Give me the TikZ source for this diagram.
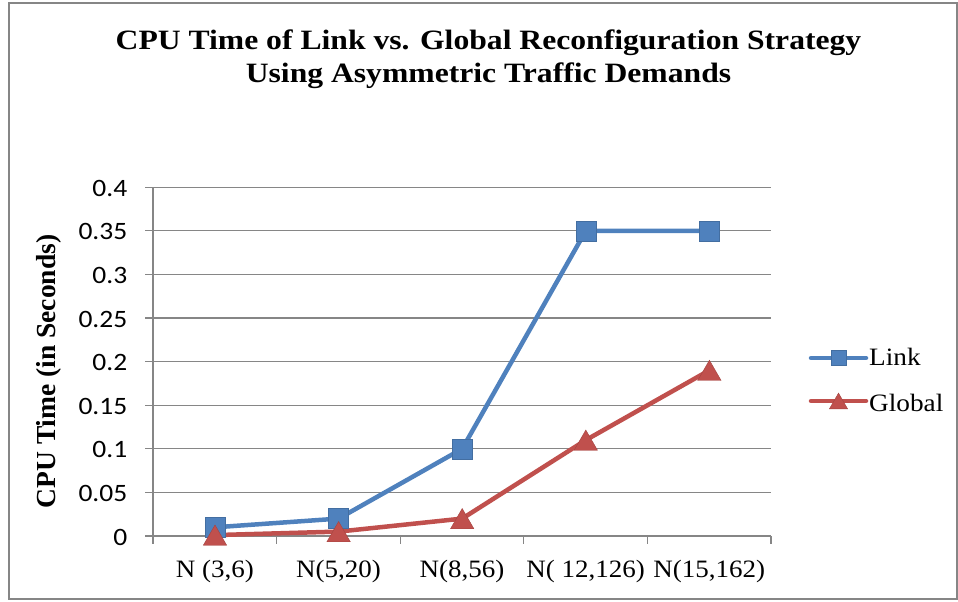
\documentclass[tikz,border=0pt]{standalone}
\usepackage{fontspec}
\setmainfont{Liberation Serif}
\newfontfamily\numfont{Carlito}
\usetikzlibrary{shapes.geometric}
\definecolor{linkblue}{HTML}{4F81BD}
\definecolor{globalred}{HTML}{C0504D}
\definecolor{gridgray}{HTML}{868686}
% text slightly widened, as in the chart export
\newcommand{\wide}[2][1.1]{\scalebox{#1}[1]{#2}}
\begin{document}
\begin{tikzpicture}[x=1pt,y=-1pt,
  gridline/.style={draw=gridgray,line width=1.3pt},
  series/.style={line width=4.5pt,line join=round},
  sqmark/.style={rectangle,fill=linkblue,draw=linkblue!85!black,line width=0.4pt,minimum size=20pt,inner sep=0pt},
  trimark/.style={regular polygon,regular polygon sides=3,fill=globalred,draw=globalred!85!black,line width=0.4pt,minimum size=27pt,inner sep=0pt,yshift=-3.4pt},
  ticklab/.style={anchor=base east,font=\numfont\fontsize{25}{30}\selectfont,inner sep=0pt},
  catlab/.style={anchor=base,font=\fontsize{25}{30}\selectfont,inner sep=0pt},
  legtext/.style={anchor=base west,font=\fontsize{25}{30}\selectfont,inner sep=0pt},
  titlelab/.style={anchor=base,font=\bfseries\fontsize{28}{33}\selectfont,inner sep=0pt}]
\useasboundingbox (0,0) rectangle (958,602);
% chart frame
\draw[draw=gridgray,line width=1.5pt] (9,3) rectangle (957,599);
% title
\node[titlelab] (title1) at (488.5,49) {\wide[1.13]{CPU Time of Link vs. Global Reconfiguration Strategy}};
\node[titlelab] (title2) at (488.5,82) {\wide[1.13]{Using Asymmetric Traffic Demands}};
% horizontal grid and value labels
\foreach \v/\lab in {0/0,1/0.05,2/0.1,3/0.15,4/0.2,5/0.25,6/0.3,7/0.35,8/0.4}{
  \draw[gridline] (145,536-43.6*\v) -- (771,536-43.6*\v);
  \node[ticklab] (y\v) at (127.5,545-43.6*\v) {\wide{\lab}};
}
% vertical axis
\draw[gridline] (153,187) -- (153,544);
% category ticks
\foreach \i in {1,...,5}{
  \draw[gridline] (153+123.6*\i,536) -- (153+123.6*\i,544);
}
% category labels
\foreach \i/\lab in {1/{N (3,6)},2/{N(5,20)},3/{N(8,56)},4/{N( 12,126)},5/{N(15,162)}}{
  \node[catlab] (c\i) at (153+123.6*\i-61.8,577) {\wide[1.08]{\lab}};
}
% axis title
\node[rotate=90,font=\bfseries\fontsize{27.5}{32}\selectfont,inner sep=0pt] (ytitle) at (49,371.5)
  {CPU Time (in Seconds)};
% data points
\coordinate (L1) at (215.0,527.3);
\coordinate (L2) at (338.6,518.6);
\coordinate (L3) at (462.2,448.8);
\coordinate (L4) at (585.8,230.8);
\coordinate (L5) at (709.4,230.8);
\coordinate (G1) at (215.0,535.1);
\coordinate (G2) at (338.6,531.6);
\coordinate (G3) at (462.2,518.6);
\coordinate (G4) at (585.8,440.1);
\coordinate (G5) at (709.4,370.3);
\draw[series,linkblue] (L1) -- (L2) -- (L3) -- (L4) -- (L5);
\draw[series,globalred] (G1) -- (G2) -- (G3) -- (G4) -- (G5);
\foreach \i in {1,...,5}{
  \node[sqmark] (mL\i) at (L\i) {};
}
\foreach \i in {1,...,5}{
  \node[trimark] (mG\i) at (G\i) {};
}
% legend
\coordinate (la) at (811,358);
\coordinate (lb) at (866,358);
\coordinate (ga) at (811,401);
\coordinate (gb) at (866,401);
\draw[series,linkblue,line cap=round] (la) -- (lb);
\draw[series,globalred,line cap=round] (ga) -- (gb);
\node[sqmark,minimum size=15pt] (legL) at (838.5,358) {};
\node[trimark,minimum size=21pt,yshift=0.8pt] (legG) at (838.5,401) {};
\node[legtext] (tL) at (869,365) {\wide[1.09]{Link}};
\node[legtext] (tG) at (869,411.5) {\wide[1.09]{Global}};
\end{tikzpicture}
\end{document}
